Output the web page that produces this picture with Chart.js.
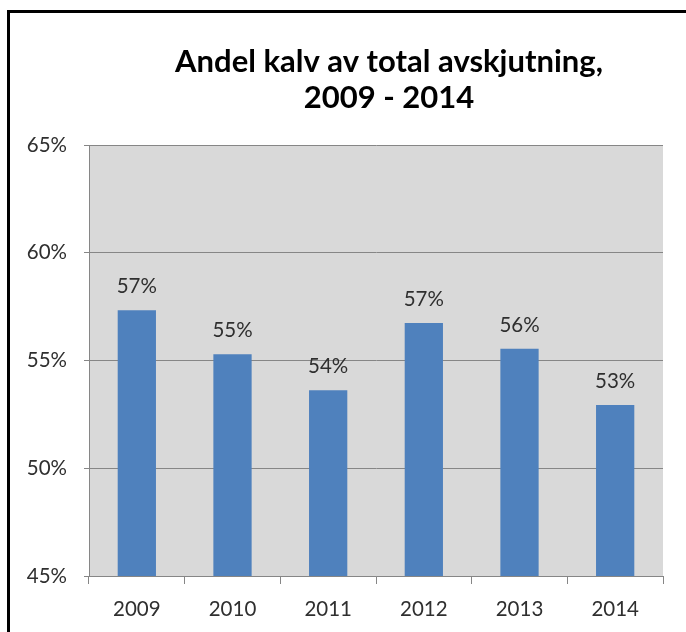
<!DOCTYPE html>
<html>
<head>
<meta charset="utf-8">
<script src="https://cdn.jsdelivr.net/npm/chart.js@4"></script>
<style>
    body { margin: 0; background: #fff; overflow: hidden; }
    #frame {
        position: absolute; left: 7px; top: 10px; width: 800px; height: 800px;
        border-left: 3px solid #000; border-top: 3px solid #000;
    }
    #chart { position: absolute; left: 0; top: 0; }
</style>
</head>
<body>
<div id="frame"></div>
<canvas id="chart" width="686" height="632"></canvas>
<script>
// Andel kalv av total avskjutning (%)
const years = ["2009", "2010", "2011", "2012", "2013", "2014"];
const calfShare = [57.33, 55.29, 53.62, 56.74, 55.55, 52.94];
const titleLines = ["Andel kalv av total avskjutning,", "2009 - 2014"];

const FONT = "Lato, 'Open Sans', sans-serif";

// grey plot area
const plotBg = {
    id: 'plotBg',
    beforeDraw(chart) {
        const a = chart.chartArea;
        const ctx = chart.ctx;
        ctx.save();
        ctx.fillStyle = '#D9D9D9';
        ctx.fillRect(a.left, a.top, a.right - a.left, a.bottom - a.top);
        ctx.restore();
    }
};

// value labels above the bars
const barLabels = {
    id: 'barLabels',
    afterDatasetsDraw(chart) {
        const ctx = chart.ctx;
        const meta = chart.getDatasetMeta(0);
        ctx.save();
        ctx.font = "20.5px " + FONT;
        ctx.fillStyle = '#2f2f2f';
        ctx.textAlign = 'center';
        ctx.textBaseline = 'alphabetic';
        meta.data.forEach((bar, i) => {
            ctx.fillText(Math.round(calfShare[i]) + '%', bar.x, bar.y - 17);
        });
        ctx.restore();
    }
};

// two line title, centred a little right of the plot
const chartTitle = {
    id: 'chartTitle',
    afterDraw(chart) {
        const a = chart.chartArea;
        const ctx = chart.ctx;
        const cx = (a.left + a.right) / 2 + 13;
        ctx.save();
        ctx.font = "bold 31px " + FONT;
        ctx.fillStyle = '#000';
        ctx.textAlign = 'center';
        ctx.textBaseline = 'alphabetic';
        ctx.fillText(titleLines[0], cx, 72);
        ctx.fillText(titleLines[1], cx, 108);
        ctx.restore();
    }
};

new Chart(document.getElementById('chart'), {
    type: 'bar',
    data: {
        labels: years,
        datasets: [{
            data: calfShare,
            backgroundColor: '#4F81BD',
            borderWidth: 0,
            barPercentage: 0.4,
            categoryPercentage: 1.0
        }]
    },
    options: {
        responsive: false,
        animation: false,
        layout: {padding: {top: 145, right: 23, bottom: 0, left: 0}},
        plugins: {
            legend: {display: false},
            tooltip: {enabled: false},
            title: {display: false}
        },
        scales: {
            x: {
                afterFit: s => { s.height = 56; },
                grid: {
                    offset: true,
                    drawOnChartArea: false,
                    tickLength: 8,
                    color: '#868686'
                },
                border: {color: '#868686'},
                ticks: {
                    padding: 13,
                    color: '#2f2f2f',
                    font: {family: FONT, size: 20.5}
                }
            },
            y: {
                min: 45,
                max: 65,
                afterFit: s => { s.width = 89; },
                grid: {color: '#868686', tickLength: 5},
                border: {color: '#868686'},
                ticks: {
                    stepSize: 5,
                    padding: 17,
                    color: '#2f2f2f',
                    font: {family: FONT, size: 20.5},
                    callback: v => v + '%'
                }
            }
        }
    },
    plugins: [plotBg, barLabels, chartTitle]
});
</script>
</body>
</html>
